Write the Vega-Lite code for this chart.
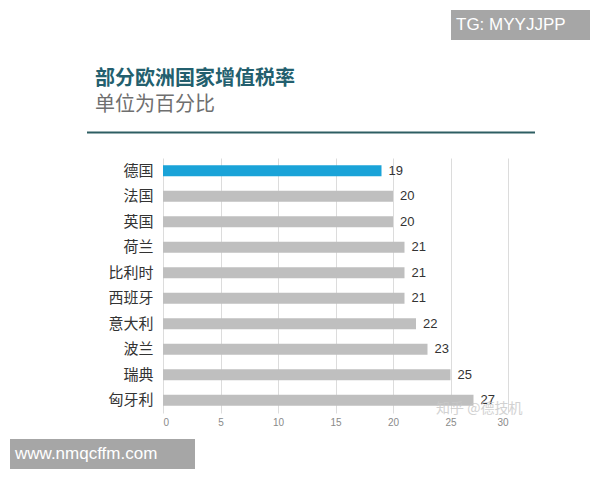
{
  "$schema": "https://vega.github.io/schema/vega-lite/v6.json",
  "width": 345,
  "height": 255,
  "autosize": {"type": "none"},
  "padding": {"left": 163, "top": 158, "right": 92, "bottom": 67},
  "background": "white",
  "config": {"view": {"stroke": null}},
  "datasets": {
    "rates": [
      {"country": "德国", "rate": 19, "highlight": "yes"},
      {"country": "法国", "rate": 20, "highlight": "no"},
      {"country": "英国", "rate": 20, "highlight": "no"},
      {"country": "荷兰", "rate": 21, "highlight": "no"},
      {"country": "比利时", "rate": 21, "highlight": "no"},
      {"country": "西班牙", "rate": 21, "highlight": "no"},
      {"country": "意大利", "rate": 22, "highlight": "no"},
      {"country": "波兰", "rate": 23, "highlight": "no"},
      {"country": "瑞典", "rate": 25, "highlight": "no"},
      {"country": "匈牙利", "rate": 27, "highlight": "no"}
    ]
  },
  "layer": [
    {
      "data": {"name": "rates"},
      "mark": {"type": "bar", "size": 11},
      "encoding": {
        "y": {
          "field": "country",
          "type": "nominal",
          "sort": null,
          "axis": {
            "title": null,
            "ticks": false,
            "domain": false,
            "labelFont": "Noto Sans CJK SC",
            "labelFontSize": 15,
            "labelColor": "#333333",
            "labelPadding": 10
          }
        },
        "x": {
          "field": "rate",
          "type": "quantitative",
          "scale": {"domain": [0, 30], "nice": false},
          "axis": {
            "title": null,
            "values": [0, 5, 10, 15, 20, 25, 30],
            "grid": true,
            "gridColor": "#dcdcdc",
            "domain": false,
            "ticks": false,
            "labelFont": "Liberation Sans",
            "labelFontSize": 10,
            "labelColor": "#8a8a8a",
            "labelPadding": 4
          }
        },
        "color": {
          "field": "highlight",
          "type": "nominal",
          "scale": {"domain": ["yes", "no"], "range": ["#1aa3d8", "#bfbfbf"]},
          "legend": null
        }
      }
    },
    {
      "data": {"name": "rates"},
      "mark": {"type": "text", "align": "left", "baseline": "middle", "dx": 7, "font": "Liberation Sans", "fontSize": 13, "color": "#333333"},
      "encoding": {
        "y": {"field": "country", "type": "nominal", "sort": null},
        "x": {"field": "rate", "type": "quantitative"},
        "text": {"field": "rate", "type": "quantitative"}
      }
    },
    {
      "data": {"values": [{}]},
      "mark": {"type": "text", "text": "部分欧洲国家增值税率", "align": "left", "baseline": "middle", "font": "Noto Sans CJK SC", "fontSize": 20, "fontWeight": "bold", "color": "#235f6e"},
      "encoding": {
        "x": {"value": -68},
        "y": {"value": -79}
      }
    },
    {
      "data": {"values": [{}]},
      "mark": {"type": "text", "text": "单位为百分比", "align": "left", "baseline": "middle", "font": "Noto Sans CJK SC", "fontSize": 20, "color": "#6f6f6f"},
      "encoding": {
        "x": {"value": -68},
        "y": {"value": -53}
      }
    },
    {
      "data": {"values": [{}]},
      "mark": {"type": "rule", "color": "#2e5e63", "strokeWidth": 2},
      "encoding": {
        "x": {"value": -76},
        "x2": {"value": 372},
        "y": {"value": -25.5}
      }
    },
    {
      "data": {"values": [{}]},
      "mark": {"type": "text", "text": "知乎 @德技机", "align": "left", "baseline": "middle", "font": "Noto Sans CJK SC", "fontSize": 14, "color": "#c8c8c8", "opacity": 0.8},
      "encoding": {
        "x": {"value": 273},
        "y": {"value": 251}
      }
    },
    {
      "data": {"values": [{}]},
      "mark": {"type": "rect", "color": "#a6a6a6"},
      "encoding": {
        "x": {"value": 288},
        "x2": {"value": 427},
        "y": {"value": -148},
        "y2": {"value": -118}
      }
    },
    {
      "data": {"values": [{}]},
      "mark": {"type": "text", "text": "TG: MYYJJPP", "align": "left", "baseline": "middle", "font": "Liberation Sans", "fontSize": 17, "color": "white"},
      "encoding": {
        "x": {"value": 293},
        "y": {"value": -133}
      }
    },
    {
      "data": {"values": [{}]},
      "mark": {"type": "rect", "color": "#a6a6a6"},
      "encoding": {
        "x": {"value": -153},
        "x2": {"value": 32},
        "y": {"value": 281},
        "y2": {"value": 311}
      }
    },
    {
      "data": {"values": [{}]},
      "mark": {"type": "text", "text": "www.nmqcffm.com", "align": "left", "baseline": "middle", "font": "Liberation Sans", "fontSize": 17, "color": "white"},
      "encoding": {
        "x": {"value": -148},
        "y": {"value": 296}
      }
    }
  ]
}
